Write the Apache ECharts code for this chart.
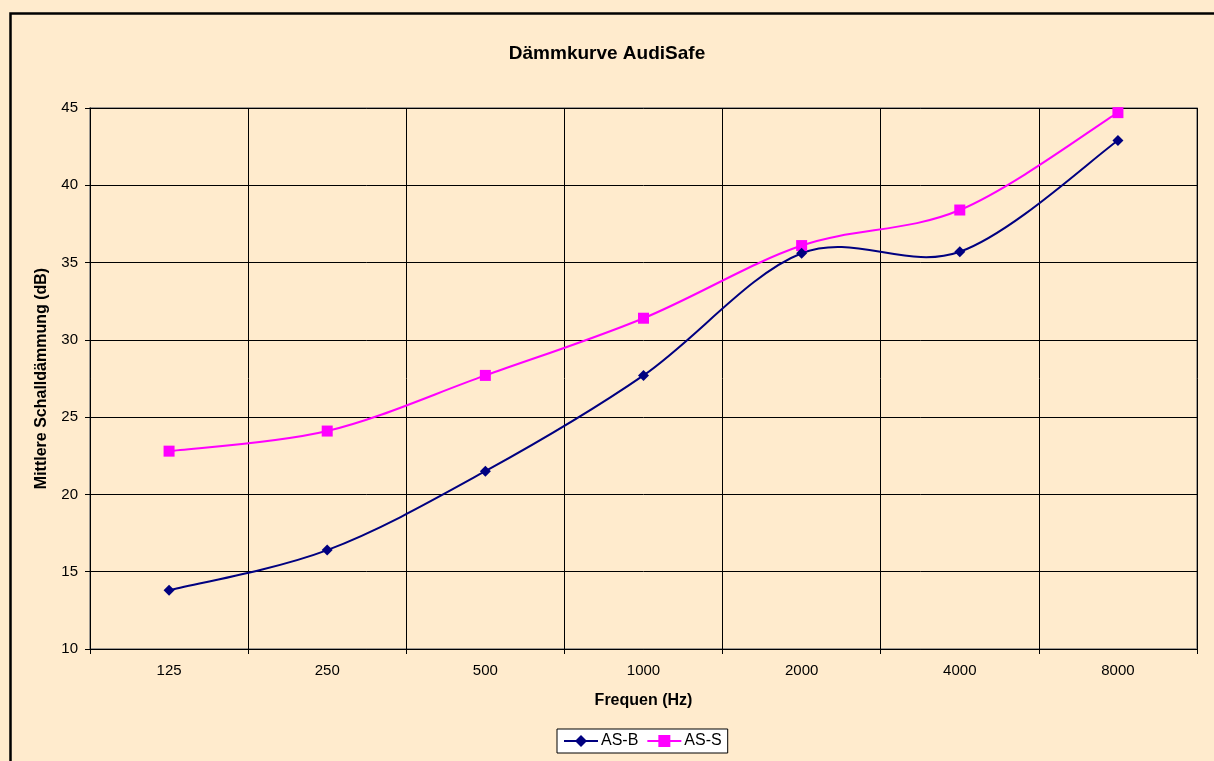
<!DOCTYPE html>
<html>
<head>
<meta charset="utf-8">
<script src="https://cdn.jsdelivr.net/npm/echarts@6/dist/echarts.min.js"></script>
<style>
    html, body { margin: 0; padding: 0; background: #FFEBCD; }
    #chart { width: 1214px; height: 761px; }
</style>
</head>
<body>
<div id="chart"></div>
<script>
// Frequenzen (Hz)
var frequencies = ['125', '250', '500', '1000', '2000', '4000', '8000'];
// Mittlere Schalldämmung (dB)
var asB = [13.8, 16.4, 21.5, 27.7, 35.6, 35.7, 42.9];
var asS = [22.8, 24.1, 27.7, 31.4, 36.1, 38.4, 44.7];

// Excel-artige Glättung (Catmull-Rom als Bezier), Punkte kommen aus api.coord
function smoothPath(pts) {
    var d = 'M' + pts[0][0] + ' ' + pts[0][1];
    for (var i = 0; i < pts.length - 1; i++) {
        var p0 = pts[i - 1] || pts[i];
        var p1 = pts[i];
        var p2 = pts[i + 1];
        var p3 = pts[i + 2] || pts[i + 1];
        var c1x = p1[0] + (p2[0] - p0[0]) / 6;
        var c1y = p1[1] + (p2[1] - p0[1]) / 6;
        var c2x = p2[0] - (p3[0] - p1[0]) / 6;
        var c2y = p2[1] - (p3[1] - p1[1]) / 6;
        d += ' C' + c1x + ' ' + c1y + ' ' + c2x + ' ' + c2y + ' ' + p2[0] + ' ' + p2[1];
    }
    return d;
}

function curveSeries(values, color) {
    return {
        type: 'custom',
        silent: true,
        z: 1,
        data: values.map(function (v, i) { return [i, v]; }),
        encode: { x: 0, y: 1 },
        renderItem: function (params, api) {
            if (params.dataIndex !== 0) return;
            var pts = values.map(function (v, i) { return api.coord([i, v]); });
            return {
                type: 'path',
                shape: { pathData: smoothPath(pts) },
                style: { fill: 'none', stroke: color, lineWidth: 2 }
            };
        }
    };
}

var chart = echarts.init(document.getElementById('chart'));
var option = {
    backgroundColor: '#FFEBCD',
    animation: false,
    textStyle: { fontFamily: 'Liberation Sans, Arial, sans-serif' },
    graphic: {
        elements: [
            {
                type: 'rect',
                left: 8,
                top: 11,
                shape: { width: 1220, height: 770 },
                style: { fill: 'none', stroke: '#000', lineWidth: 2.5 },
                silent: true
            }
        ]
    },
    title: {
        text: 'Dämmkurve AudiSafe',
        left: 'center',
        top: 39,
        textStyle: { fontSize: 19, fontWeight: 'bold', color: '#000' }
    },
    legend: {
        data: [
            { name: 'AS-B', lineStyle: { opacity: 1, width: 2, color: '#000080' } },
            { name: 'AS-S', lineStyle: { opacity: 1, width: 2, color: '#FF00FF' } }
        ],
        left: 557,
        top: 729,
        backgroundColor: '#fff',
        borderColor: '#000',
        borderWidth: 1,
        borderRadius: 0,
        padding: [4, 6],
        itemGap: 8,
        itemWidth: 34,
        itemHeight: 15,
        textStyle: { fontSize: 16, color: '#000', padding: [0, 0, 0, -2] }
    },
    grid: {
        left: 90,
        right: 17,
        top: 108,
        bottom: 112,
        show: true,
        borderColor: '#808080',
        borderWidth: 1.5,
        containLabel: false
    },
    xAxis: {
        type: 'category',
        data: frequencies,
        boundaryGap: true,
        name: 'Frequen (Hz)',
        nameLocation: 'middle',
        nameGap: 44,
        nameTextStyle: { fontSize: 16, fontWeight: 'bold', color: '#000' },
        axisLine: { lineStyle: { color: '#000', width: 1 } },
        axisTick: { show: true, length: 5, lineStyle: { color: '#000' } },
        axisLabel: { fontSize: 15, color: '#000', margin: 14 },
        splitLine: { show: true, lineStyle: { color: '#000', width: 1 } }
    },
    yAxis: {
        type: 'value',
        min: 10,
        max: 45,
        interval: 5,
        name: 'Mittlere Schalldämmung (dB)',
        nameLocation: 'middle',
        nameGap: 40,
        nameTextStyle: { fontSize: 16, fontWeight: 'bold', color: '#000' },
        axisLine: { show: true, lineStyle: { color: '#000', width: 1 } },
        axisTick: { show: true, length: 5, lineStyle: { color: '#000' } },
        axisLabel: { fontSize: 15, color: '#000', margin: 12 },
        splitLine: { show: true, lineStyle: { color: '#000', width: 1 } }
    },
    series: [
        curveSeries(asB, '#000080'),
        curveSeries(asS, '#FF00FF'),
        {
            name: 'AS-B',
            type: 'line',
            data: asB,
            z: 4,
            symbol: 'diamond',
            symbolSize: 11,
            itemStyle: { color: '#000080' },
            lineStyle: { color: '#000080', width: 2, opacity: 0 }
        },
        {
            name: 'AS-S',
            type: 'line',
            data: asS,
            z: 3,
            symbol: 'rect',
            symbolSize: 11,
            itemStyle: { color: '#FF00FF' },
            lineStyle: { color: '#FF00FF', width: 2, opacity: 0 }
        }
    ]
};
chart.setOption(option);
</script>
</body>
</html>
